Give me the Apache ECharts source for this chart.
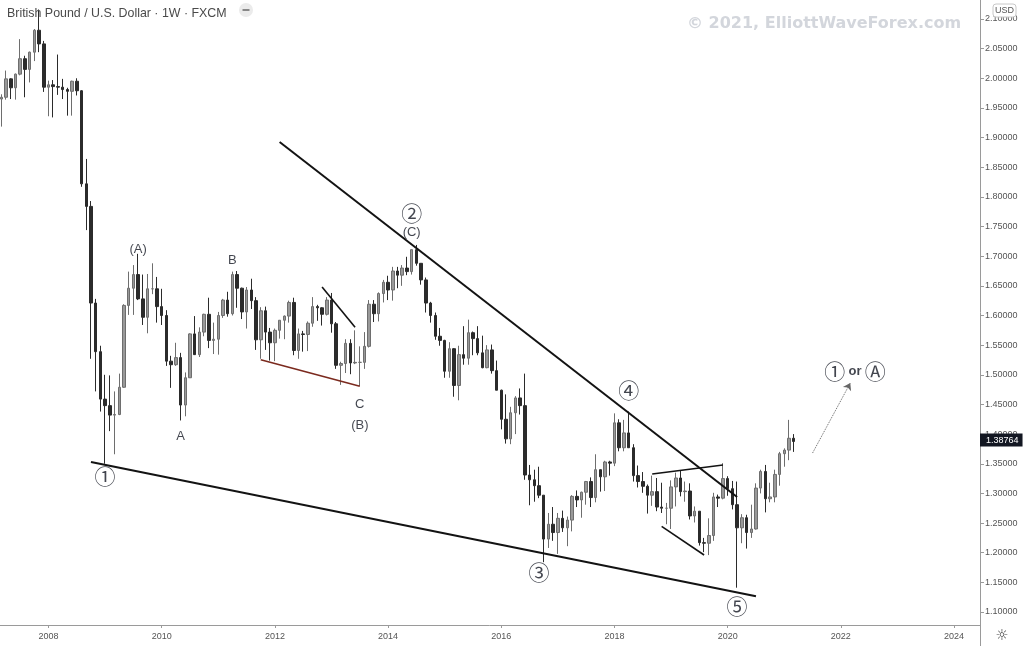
<!DOCTYPE html>
<html><head><meta charset="utf-8">
<script src="https://cdn.jsdelivr.net/npm/echarts@6/dist/echarts.min.js"></script>
<style>html,body{margin:0;padding:0;background:#fff}#c{width:1024px;height:646px}</style>
</head><body><div id="c"></div>
<script>
// ---- data ----
const startYear = 2007, startMonth = 3, monthCount = 208; // categories Mar 2007 .. Jun 2024
// monthly [open, high, low, close], Mar 2007 .. Mar 2021
const ohlc = [
 [1.9650,1.9730,1.9185,1.9680],[1.9680,2.0130,1.9640,1.9990],[1.9990,2.0000,1.9650,1.9840],[1.9840,2.0080,1.9640,2.0070],
 [2.0070,2.0660,2.0050,2.0330],[2.0330,2.0380,1.9680,2.0150],[2.0150,2.0450,1.9930,2.0440],[2.0440,2.0830,2.0290,2.0810],
 [2.0810,2.1160,2.0440,2.0580],[2.0580,2.0630,1.9770,1.9850],
 [1.9850,1.9960,1.9360,1.9890],[1.9890,1.9970,1.9340,1.9860],[1.9860,2.0400,1.9720,1.9850],[1.9850,1.9990,1.9650,1.9810],
 [1.9810,1.9840,1.9370,1.9780],[1.9780,1.9960,1.9370,1.9950],[1.9950,2.0000,1.9710,1.9790],[1.9790,1.9800,1.8170,1.8220],
 [1.8220,1.8640,1.7440,1.7840],[1.7840,1.7930,1.5270,1.6210],[1.6210,1.6280,1.4720,1.5390],[1.5390,1.5490,1.4380,1.4590],
 [1.4590,1.5000,1.3500,1.4480],[1.4480,1.4990,1.4050,1.4320],[1.4320,1.4720,1.3660,1.4330],[1.4330,1.5020,1.4320,1.4790],
 [1.4790,1.6190,1.4780,1.6170],[1.6170,1.6740,1.6010,1.6460],[1.6460,1.6850,1.6010,1.6690],[1.6690,1.7040,1.6260,1.6280],
 [1.6280,1.6690,1.5840,1.5970],[1.5970,1.6700,1.5700,1.6450],[1.6450,1.6880,1.6360,1.6450],[1.6450,1.6650,1.5880,1.6150],
 [1.6150,1.6450,1.5840,1.6000],[1.6000,1.6090,1.5150,1.5230],[1.5230,1.5320,1.4780,1.5170],[1.5170,1.5540,1.5150,1.5290],
 [1.5290,1.5370,1.4230,1.4490],[1.4490,1.5040,1.4300,1.4950],[1.4950,1.5700,1.4950,1.5690],[1.5690,1.5990,1.5340,1.5340],
 [1.5340,1.5800,1.5300,1.5720],[1.5720,1.6030,1.5650,1.6020],[1.6020,1.6300,1.5450,1.5580],[1.5580,1.5880,1.5350,1.5600],
 [1.5600,1.6060,1.5340,1.6000],[1.6000,1.6280,1.5960,1.6260],[1.6260,1.6400,1.5980,1.6030],[1.6030,1.6740,1.6000,1.6690],
 [1.6690,1.6750,1.6130,1.6460],[1.6460,1.6470,1.5940,1.6060],[1.6060,1.6480,1.5780,1.6430],[1.6430,1.6620,1.6110,1.6250],
 [1.6250,1.6310,1.5420,1.5590],[1.5590,1.6140,1.5270,1.6080],[1.6080,1.6150,1.5420,1.5720],[1.5720,1.5790,1.5240,1.5540],
 [1.5540,1.5780,1.5230,1.5750],[1.5750,1.5920,1.5610,1.5920],[1.5920,1.6000,1.5600,1.5990],[1.5990,1.6250,1.5880,1.6220],
 [1.6220,1.6300,1.5330,1.5410],[1.5410,1.5780,1.5270,1.5690],[1.5690,1.5740,1.5390,1.5680],[1.5680,1.5900,1.5400,1.5870],
 [1.5870,1.6310,1.5810,1.6150],[1.6150,1.6180,1.5910,1.6130],[1.6130,1.6140,1.5830,1.6020],[1.6020,1.6310,1.6000,1.6260],
 [1.6260,1.6380,1.5710,1.5860],[1.5860,1.5890,1.5100,1.5160],[1.5160,1.5220,1.4830,1.5190],[1.5190,1.5600,1.5030,1.5530],
 [1.5530,1.5600,1.5010,1.5200],[1.5200,1.5750,1.5180,1.5210],[1.5210,1.5480,1.4810,1.5210],[1.5210,1.5720,1.5100,1.5480],
 [1.5480,1.6260,1.5460,1.6190],[1.6190,1.6260,1.5890,1.6030],[1.6030,1.6390,1.5900,1.6370],[1.6370,1.6600,1.6220,1.6560],
 [1.6560,1.6670,1.6260,1.6430],[1.6430,1.6820,1.6250,1.6750],[1.6750,1.6820,1.6460,1.6680],[1.6680,1.6850,1.6500,1.6800],
 [1.6800,1.6990,1.6680,1.6740],[1.6740,1.7110,1.6690,1.7110],[1.7110,1.7190,1.6840,1.6880],[1.6880,1.6880,1.6520,1.6600],
 [1.6600,1.6640,1.6050,1.6210],[1.6210,1.6230,1.5880,1.6000],[1.6000,1.6050,1.5590,1.5650],[1.5650,1.5790,1.5490,1.5580],
 [1.5580,1.5590,1.4950,1.5060],[1.5060,1.5550,1.4950,1.5440],[1.5440,1.5450,1.4630,1.4820],[1.4820,1.5490,1.4570,1.5340],
 [1.5340,1.5820,1.5170,1.5280],[1.5280,1.5930,1.5170,1.5710],[1.5710,1.5730,1.5330,1.5610],[1.5610,1.5820,1.5330,1.5370],
 [1.5370,1.5660,1.5110,1.5120],[1.5120,1.5500,1.5110,1.5420],[1.5420,1.5510,1.5020,1.5070],[1.5070,1.5240,1.4740,1.4740],
 [1.4740,1.4750,1.4080,1.4250],[1.4250,1.4670,1.3840,1.3920],[1.3920,1.4460,1.3830,1.4360],[1.4360,1.4640,1.4000,1.4610],
 [1.4610,1.4770,1.4330,1.4480],[1.4480,1.5020,1.3230,1.3310],[1.3310,1.3480,1.2800,1.3230],[1.3230,1.3400,1.2860,1.3130],
 [1.3130,1.3450,1.2920,1.2970],[1.2970,1.2970,1.1840,1.2230],[1.2230,1.2670,1.2080,1.2480],[1.2480,1.2770,1.2200,1.2340],
 [1.2340,1.2670,1.1980,1.2580],[1.2580,1.2710,1.2350,1.2420],[1.2420,1.2610,1.2110,1.2550],[1.2550,1.2970,1.2360,1.2950],
 [1.2950,1.3050,1.2770,1.2890],[1.2890,1.3030,1.2590,1.3020],[1.3020,1.3210,1.2810,1.3200],[1.3200,1.3270,1.2770,1.2930],
 [1.2930,1.3660,1.2850,1.3400],[1.3400,1.3400,1.3030,1.3280],[1.3280,1.3550,1.3040,1.3530],[1.3530,1.3550,1.3300,1.3510],
 [1.3510,1.4350,1.3460,1.4190],[1.4190,1.4250,1.3710,1.3770],[1.3770,1.4240,1.3710,1.4020],[1.4020,1.4380,1.3770,1.3770],
 [1.3770,1.3830,1.3200,1.3300],[1.3300,1.3470,1.3100,1.3200],[1.3200,1.3360,1.3010,1.3120],[1.3120,1.3150,1.2660,1.2970],
 [1.2970,1.3300,1.2790,1.3030],[1.3030,1.3260,1.2700,1.2770],[1.2770,1.3180,1.2670,1.2750],[1.2750,1.2840,1.2480,1.2750],
 [1.2750,1.3220,1.2400,1.3110],[1.3110,1.3350,1.2780,1.3260],[1.3260,1.3380,1.2950,1.3030],[1.3030,1.3200,1.2860,1.3040],
 [1.3040,1.3170,1.2560,1.2620],[1.2620,1.2780,1.2510,1.2700],[1.2700,1.2700,1.2120,1.2170],[1.2170,1.2250,1.2010,1.2160],
 [1.2160,1.2580,1.1960,1.2290],[1.2290,1.3010,1.2200,1.2940],[1.2940,1.2980,1.2770,1.2920],[1.2920,1.3510,1.2900,1.3250],
 [1.3250,1.3290,1.2960,1.3080],[1.3080,1.3210,1.2730,1.2810],[1.2810,1.3200,1.1410,1.2420],[1.2420,1.2650,1.2160,1.2590],
 [1.2590,1.2640,1.2070,1.2340],[1.2340,1.2810,1.2250,1.2400],[1.2400,1.3170,1.2390,1.3090],[1.3090,1.3400,1.3000,1.3370],
 [1.3370,1.3480,1.2680,1.2910],[1.2910,1.3180,1.2850,1.2940],[1.2940,1.3400,1.2850,1.3320],[1.3320,1.3700,1.3130,1.3670],
 [1.3670,1.3760,1.3450,1.3730],[1.3730,1.4240,1.3560,1.3930],[1.3930,1.4000,1.3700,1.3876]
];
const yTicks = [1.10,1.15,1.20,1.25,1.30,1.35,1.40,1.45,1.50,1.55,1.60,1.65,1.70,1.75,1.80,1.85,1.90,1.95,2.00,2.05,2.10];
const yearLabels = ['2008','2010','2012','2014','2016','2018','2020','2022','2024'];
const lastPrice = 1.38764;
// trend lines
const lineFrom = [['2008-10',1.3530],['2012-02',1.8926],['2012-11',1.6480],['2011-10',1.5253],['2018-09',1.3327],['2018-11',1.2443]];
const lineTo   = [['2020-07',1.1267],['2020-03',1.2939],['2013-06',1.5800],['2013-07',1.4808],['2019-12',1.3479],['2019-08',1.1961]];
const arrowFrom = ['2021-07',1.3681], arrowTo = ['2022-03',1.4862];
// wave labels
const waveText  = ['①','(A)','A','B','C','(B)','②','(C)','③','④','⑤'];
const waveMonth = ['2009-01','2009-08','2010-05','2011-04','2013-07','2013-07','2014-06','2014-06','2016-09','2018-04','2020-03'];
const wavePrice = [1.3294,1.7121,1.3968,1.6936,1.4508,1.4154,1.7728,1.7408,1.1675,1.4744,1.1101];
const targetText = ['①','or','Ⓐ'], targetMonth = '2022-04', targetPrice = 1.5064;

// ---- build ----
const cats = [];
for (let i = 0; i < monthCount; i++) {
  const m = startMonth - 1 + i;
  cats.push((startYear + Math.floor(m / 12)) + '-' + String(m % 12 + 1).padStart(2, '0'));
}
const candleData = ohlc.map(r => [r[0], r[3], r[2], r[1]]);
const isYearTick = (idx, val) => val.slice(5) === '01' && yearLabels.indexOf(val.slice(0, 4)) >= 0;
const lineColors = ['#131313','#131313','#131313','#7b2a1e','#131313','#131313'];
const lineWidths = [2, 2, 1.6, 1.6, 1.6, 1.6];
const circled = t => /[①②③④⑤Ⓐ]/.test(t);

const series = [{
  type: 'candlestick',
  data: candleData,
  barWidth: 3,
  itemStyle: { color: '#999999', color0: '#2b2b2b', borderColor: '#6e6e6e', borderColor0: '#2b2b2b', borderWidth: 1 },
  markLine: {
    silent: true, symbol: ['none', 'none'], animation: false,
    lineStyle: { width: 0, color: '#131722', type: 'solid' },
    label: { show: true, position: 'end', distance: 0, formatter: () => lastPrice.toFixed(5),
      backgroundColor: '#131722', color: '#ffffff', fontSize: 9, fontFamily: 'Liberation Sans', padding: [2, 4, 2, 6] },
    emphasis: { disabled: true },
    data: [{ yAxis: lastPrice }]
  }
}];
lineFrom.forEach((f, i) => series.push({
  type: 'line', data: [f, lineTo[i]], symbol: 'none', silent: true,
  lineStyle: { color: lineColors[i], width: lineWidths[i] }, z: 5
}));
series.push({
  type: 'line', data: [], silent: true,
  markLine: {
    silent: true, animation: false, symbol: ['none', 'arrow'], symbolSize: 7,
    lineStyle: { type: 'dotted', color: '#666', width: 1 }, label: { show: false },
    data: [[{ coord: arrowFrom }, { coord: arrowTo }]]
  }
});
series.push({
  type: 'scatter', symbolSize: 0, silent: true, z: 10,
  data: waveText.map((t, i) => [waveMonth[i], wavePrice[i], t]).concat([[targetMonth, targetPrice, targetText.join(' ')]]),
  label: {
    show: true, position: 'inside',
    formatter: p => p.data[2].split(' ').map(t => circled(t) ? '{c|' + t + '}' : (t === 'or' ? '{o|' + t + '}' : '{t|' + t + '}')).join(' '),
    rich: {
      c: { fontFamily: 'Noto Sans CJK SC', fontSize: 21, color: '#131722' },
      t: { fontFamily: 'Liberation Sans', fontSize: 13, color: '#131722' },
      o: { fontFamily: 'Liberation Sans', fontSize: 13, fontWeight: 'bold', color: '#131722' }
    }
  }
});

const chart = echarts.init(document.getElementById('c'), null, { renderer: 'canvas' });
chart.setOption({
  animation: false,
  backgroundColor: '#ffffff',
  title: [
    { text: 'British Pound / U.S. Dollar · 1W · FXCM', left: 2, top: 3,
      textStyle: { fontSize: 12.4, fontWeight: 'normal', color: '#4a4a4a', fontFamily: 'Liberation Sans' } },
    { text: '© 2021, ElliottWaveForex.com', left: 682, top: 11,
      textStyle: { fontSize: 16, fontWeight: 'bold', color: '#d3d6dc', fontFamily: 'DejaVu Sans' } }
  ],
  grid: { left: -1, right: 44, top: 0, bottom: 21, containLabel: false, outerBoundsMode: 'none' },
  xAxis: {
    type: 'category', data: cats, boundaryGap: true,
    axisLine: { lineStyle: { color: '#9a9a9a', width: 1 } },
    axisTick: { show: true, interval: isYearTick, alignWithLabel: true, length: 3, lineStyle: { color: '#9a9a9a' } },
    axisLabel: { interval: isYearTick, formatter: v => v.slice(0, 4), color: '#555', fontSize: 9, fontFamily: 'Liberation Sans', margin: 7 },
    splitLine: { show: false }
  },
  yAxis: {
    type: 'value', position: 'right', min: 1.0781, max: 2.132, scale: true,
    axisLine: { show: true, lineStyle: { color: '#9a9a9a', width: 1 } },
    axisTick: { show: true, length: 4, customValues: yTicks, lineStyle: { color: '#9a9a9a' } },
    axisLabel: { customValues: yTicks, formatter: v => v.toFixed(5), color: '#555', fontSize: 9, fontFamily: 'Liberation Sans', margin: 5 },
    splitLine: { show: false }
  },
  graphic: [
    { type: 'circle', shape: { cx: 246, cy: 10, r: 7 }, style: { fill: '#ebebeb' }, silent: true },
    { type: 'line', shape: { x1: 242.5, y1: 10, x2: 249.5, y2: 10 }, style: { stroke: '#888', lineWidth: 2 }, silent: true },
    { type: 'line', shape: { x1: 980.5, y1: 625, x2: 980.5, y2: 646 }, style: { stroke: '#9a9a9a', lineWidth: 1 }, silent: true },
    { type: 'rect', shape: { x: 993, y: 4, width: 23, height: 13, r: 3 }, style: { fill: '#fff', stroke: '#c8c8c8', lineWidth: 1 }, z: 100, silent: true },
    { type: 'text', x: 1004.5, y: 10.5, style: { text: 'USD', fontSize: 9, fontFamily: 'Liberation Sans', fill: '#555', align: 'center', verticalAlign: 'middle' }, z: 101, silent: true },
    { type: 'text', x: 1002, y: 636, style: { text: '☼', fontSize: 15, fontFamily: 'DejaVu Sans', fill: '#444', align: 'center', verticalAlign: 'middle' }, z: 101, silent: true }
  ],
  series: series
});
</script>
</body></html>
